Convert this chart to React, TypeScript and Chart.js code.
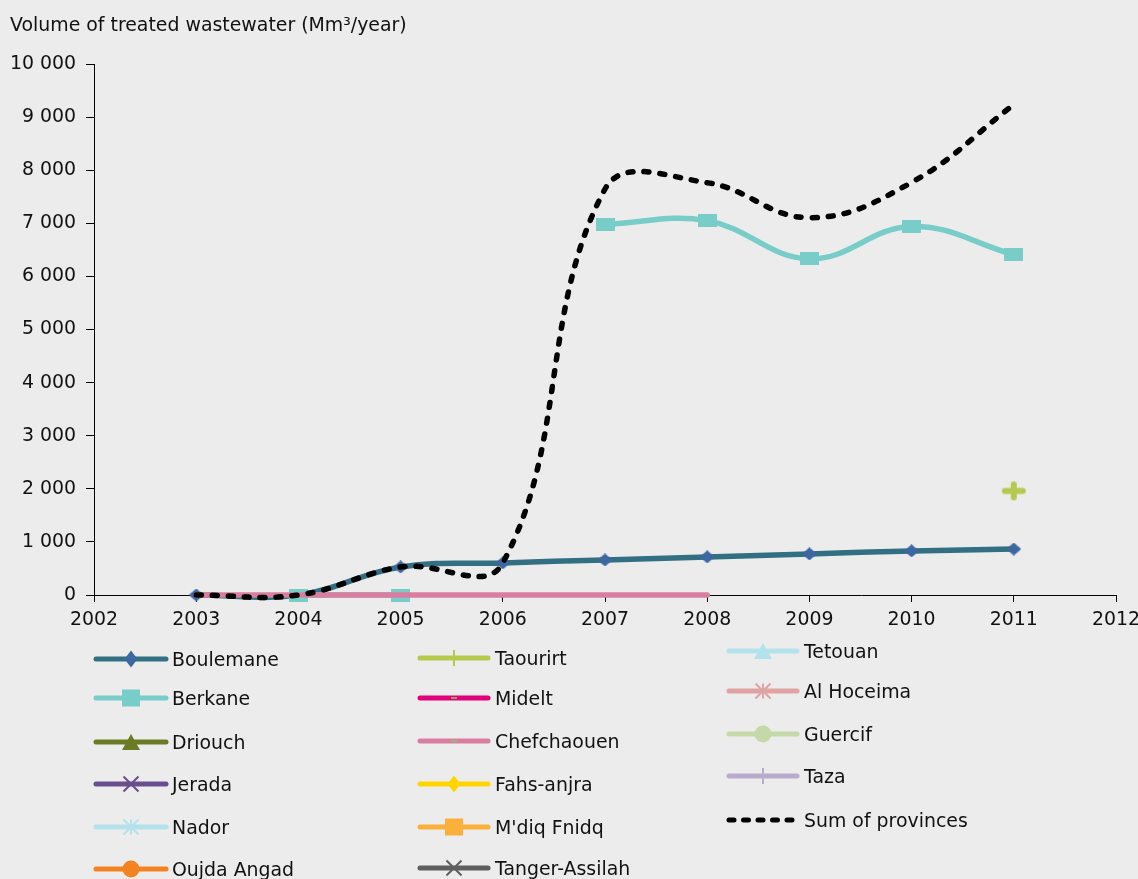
import { useEffect, useRef } from 'react';
import { Chart, registerables } from 'chart.js';

Chart.register(...registerables);

const FONT = '"DejaVu Sans", Verdana, sans-serif';
const FONT_SIZE = 18.9;
const BG = '#ececec';
const TEXT = '#111111';

// ---------- data ----------
const yAxisTitle = 'Volume of treated wastewater (Mm\u00b3/year)';
const years = [2003, 2004, 2005, 2006, 2007, 2008, 2009, 2010, 2011];
const xTickMin = 2002;
const xTickMax = 2012;
const yTickMax = 10000;
const yTickStep = 1000;

const seriesNames = [
  'Boulemane', 'Berkane', 'Driouch', 'Jerada', 'Nador', 'Oujda Angad',
  'Taourirt', 'Midelt', 'Chefchaouen', 'Fahs-anjra', "M'diq Fnidq", 'Tanger-Assilah',
  'Tetouan', 'Al Hoceima', 'Guercif', 'Taza', 'Sum of provinces',
];

const boulemane = [0, 0, 528, 604, 660, 717, 774, 830, 866];
const berkane = [null, 0, 0, null, 6980, 7050, 6330, 6940, 6410];
const driouch: (number | null)[] = [];
const jerada: (number | null)[] = [];
const nador: (number | null)[] = [];
const oujdaAngad: (number | null)[] = [];
const taourirt = [null, null, null, null, null, null, null, null, 1960];
const midelt: (number | null)[] = [];
const chefchaouen = [0, 0, 0, 0, 0, 0, null, null, null];
const fahsAnjra: (number | null)[] = [];
const mdiqFnidq: (number | null)[] = [];
const tangerAssilah: (number | null)[] = [];
const tetouan: (number | null)[] = [];
const alHoceima: (number | null)[] = [];
const guercif: (number | null)[] = [];
const taza: (number | null)[] = [];
const sumOfProvinces = [0, 0, 528, 604, 7645, 7765, 7105, 7770, 9236];

const seriesValues: (number | null)[][] = [
  boulemane, berkane, driouch, jerada, nador, oujdaAngad,
  taourirt, midelt, chefchaouen, fahsAnjra, mdiqFnidq, tangerAssilah,
  tetouan, alHoceima, guercif, taza, sumOfProvinces,
];

// ---------- styles ----------
type Marker = 'diamond' | 'square' | 'triangle' | 'x' | 'star' | 'circle' | 'plus' | 'dash' | 'none';
interface SeriesStyle { line: string; marker: Marker; mColor: string; dashed?: boolean }
const seriesStyles: SeriesStyle[] = [
  { line: '#336f82', marker: 'diamond', mColor: '#3d67a0' },
  { line: '#78cdc8', marker: 'square', mColor: '#78cdc8' },
  { line: '#6b7a24', marker: 'triangle', mColor: '#6b7a24' },
  { line: '#6a4f8f', marker: 'x', mColor: '#6a4f8f' },
  { line: '#b3e2ea', marker: 'star', mColor: '#b3e2ea' },
  { line: '#f58220', marker: 'circle', mColor: '#f58220' },
  { line: '#b5c94c', marker: 'plus', mColor: '#b5c94c' },
  { line: '#e2007a', marker: 'dash', mColor: '#8fa35a' },
  { line: '#d97ea0', marker: 'dash', mColor: '#9db37a' },
  { line: '#ffd500', marker: 'diamond', mColor: '#ffd500' },
  { line: '#fbb03b', marker: 'square', mColor: '#fbb03b' },
  { line: '#5e5e5e', marker: 'x', mColor: '#5e5e5e' },
  { line: '#b3e2ea', marker: 'triangle', mColor: '#b3e2ea' },
  { line: '#e0a3a3', marker: 'star', mColor: '#e0a3a3' },
  { line: '#c5d9a8', marker: 'circle', mColor: '#c5d9a8' },
  { line: '#b9abcb', marker: 'plus', mColor: '#b9abcb' },
  { line: '#000000', marker: 'none', mColor: '#000000', dashed: true },
];

function drawMarker(ctx: CanvasRenderingContext2D, m: Marker, cx: number, cy: number, w: number, h: number, color: string, stroke: number) {
  ctx.save();
  ctx.fillStyle = color;
  ctx.strokeStyle = color;
  ctx.lineWidth = stroke;
  ctx.lineCap = 'butt';
  const hw = w / 2, hh = h / 2;
  ctx.beginPath();
  switch (m) {
    case 'diamond':
      ctx.moveTo(cx, cy - hh); ctx.lineTo(cx + hw, cy); ctx.lineTo(cx, cy + hh); ctx.lineTo(cx - hw, cy); ctx.closePath(); ctx.fill();
      break;
    case 'square':
      ctx.rect(cx - hw, cy - hh, w, h); ctx.fill();
      break;
    case 'triangle':
      ctx.moveTo(cx, cy - hh); ctx.lineTo(cx + hw, cy + hh); ctx.lineTo(cx - hw, cy + hh); ctx.closePath(); ctx.fill();
      break;
    case 'circle':
      ctx.ellipse(cx, cy, hw, hh, 0, 0, Math.PI * 2); ctx.fill();
      break;
    case 'x':
      ctx.moveTo(cx - hw, cy - hh); ctx.lineTo(cx + hw, cy + hh); ctx.moveTo(cx + hw, cy - hh); ctx.lineTo(cx - hw, cy + hh); ctx.stroke();
      break;
    case 'star':
      ctx.moveTo(cx - hw, cy - hh); ctx.lineTo(cx + hw, cy + hh); ctx.moveTo(cx + hw, cy - hh); ctx.lineTo(cx - hw, cy + hh);
      ctx.moveTo(cx, cy - hh); ctx.lineTo(cx, cy + hh); ctx.stroke();
      break;
    case 'plus':
      ctx.lineCap = stroke > 3 ? 'round' : 'butt';
      ctx.moveTo(cx - hw, cy); ctx.lineTo(cx + hw, cy); ctx.moveTo(cx, cy - hh); ctx.lineTo(cx, cy + hh); ctx.stroke();
      break;
    case 'dash':
      ctx.moveTo(cx - 3, cy); ctx.lineTo(cx + 3, cy); ctx.stroke();
      break;
    default:
      break;
  }
  ctx.restore();
}

const chartMarkerSize: Record<string, [number, number, number]> = {
  diamond: [15, 13, 0],
  square: [19, 13, 0],
  triangle: [16, 13, 0],
  circle: [14, 13, 0],
  x: [14, 13, 2],
  star: [14, 13, 2],
  plus: [18, 13, 6],
};

function makePointCanvas(m: Marker, color: string): HTMLCanvasElement | null {
  const size = chartMarkerSize[m];
  if (!size) return null;
  const [w, h, s] = size;
  const pad = s;
  const c = document.createElement('canvas');
  c.width = w + pad * 2;
  c.height = h + pad * 2;
  const ctx = c.getContext('2d')!;
  drawMarker(ctx, m, c.width / 2, c.height / 2, w, h, color, s);
  return c;
}

const legendColumns = [
  { x0: 96, x1: 166, textX: 172, rows: [659, 698, 742, 784, 827, 869] },
  { x0: 420, x1: 488, textX: 495, rows: [658, 698, 741, 784, 827, 868] },
  { x0: 729, x1: 797, textX: 804, rows: [651, 691, 734, 776, 820] },
];
const legendColumnOf = (i: number) => (i < 6 ? [0, i] : i < 12 ? [1, i - 6] : [2, i - 12]);

const legendMarkerSize: Record<string, [number, number, number]> = {
  diamond: [13, 17, 0],
  square: [18, 17, 0],
  triangle: [18, 16, 0],
  circle: [17, 17, 0],
  x: [15, 15, 2],
  star: [15, 15, 2],
  plus: [0.1, 16, 2],
  dash: [6, 2, 2],
};

const customDraw = {
  id: 'customDraw',
  afterDraw(chart: Chart) {
    const ctx = chart.ctx;
    ctx.save();
    ctx.font = `${FONT_SIZE}px ${FONT}`;
    ctx.fillStyle = TEXT;
    ctx.textBaseline = 'alphabetic';
    ctx.textAlign = 'left';
    ctx.fillText(yAxisTitle, 10, 31);

    seriesNames.forEach((name, i) => {
      const [col, row] = legendColumnOf(i);
      const L = legendColumns[col];
      const y = L.rows[row];
      const st = seriesStyles[i];
      ctx.save();
      ctx.strokeStyle = st.line;
      ctx.lineWidth = 5;
      ctx.lineCap = 'round';
      if (st.dashed) ctx.setLineDash([5, 9.5]);
      ctx.beginPath();
      ctx.moveTo(L.x0, y);
      ctx.lineTo(L.x1, y);
      ctx.stroke();
      ctx.restore();
      const ms = legendMarkerSize[st.marker];
      if (ms) drawMarker(ctx, st.marker, (L.x0 + L.x1) / 2, y, ms[0], ms[1], st.mColor, ms[2]);
      ctx.fillStyle = TEXT;
      ctx.fillText(name, L.textX, y + 7);
    });
    ctx.restore();
  },
};

const formatThousands = (v: number) => String(v).replace(/\B(?=(\d{3})+(?!\d))/g, ' ');

export default function App() {
  const ref = useRef<HTMLCanvasElement | null>(null);

  useEffect(() => {
    document.body.style.margin = '0';
    document.body.style.background = BG;
    document.body.style.overflow = 'hidden';
    const canvas = ref.current!;
    const n = seriesNames.length;
    const datasets = seriesNames.map((name, i) => {
      const st = seriesStyles[i];
      const pc = makePointCanvas(st.marker, st.mColor);
      return {
        label: name,
        data: seriesValues[i].map((v, k) => ({ x: years[k], y: v })),
        borderColor: st.line,
        backgroundColor: st.mColor,
        borderWidth: 5.5,
        borderDash: st.dashed ? [5, 11] : [],
        borderCapStyle: 'round' as const,
        borderJoinStyle: 'round' as const,
        pointStyle: (pc || 'circle') as any,
        pointRadius: pc ? 7 : 0,
        pointHoverRadius: pc ? 7 : 0,
        tension: 0.4,
        spanGaps: false,
        clip: false as any,
        // Excel draws later series on top; in Chart.js lower order is drawn on top
        order: n - i,
      };
    });

    const tickFont = { family: FONT, size: FONT_SIZE };
    const chart = new Chart(canvas, {
      type: 'line',
      data: { datasets: datasets as any },
      plugins: [customDraw],
      options: {
        responsive: false,
        animation: false,
        devicePixelRatio: 1,
        layout: { padding: { top: 64, right: 0, left: 0, bottom: 0 } },
        plugins: {
          legend: { display: false },
          tooltip: { enabled: false },
          title: { display: false },
        },
        elements: { line: { capBezierPoints: false } },
        scales: {
          x: {
            type: 'linear',
            min: xTickMin,
            max: xTickMax,
            afterFit: (s: any) => { s.height = 284; s.paddingRight = 22; s.paddingLeft = 0; },
            ticks: {
              stepSize: 1,
              autoSkip: false,
              maxRotation: 0,
              padding: 7,
              color: TEXT,
              font: tickFont,
              callback: (v: any) => String(v),
            },
            grid: { display: true, drawOnChartArea: false, drawTicks: true, tickLength: 7, color: '#000', lineWidth: 1 },
            border: { display: true, color: '#000', width: 1 },
          },
          y: {
            min: 0,
            max: yTickMax,
            afterFit: (s: any) => { s.width = 94; },
            ticks: {
              stepSize: yTickStep,
              padding: 10,
              color: TEXT,
              font: tickFont,
              callback: (v: any) => formatThousands(Number(v)),
            },
            grid: { display: true, drawOnChartArea: false, drawTicks: true, tickLength: 8, color: '#000', lineWidth: 1 },
            border: { display: true, color: '#000', width: 1 },
          },
        },
      },
    });
    return () => chart.destroy();
  }, []);

  return (
    <div style={{ width: 1138, height: 879, background: BG, overflow: 'hidden' }}>
      <canvas ref={ref} width={1138} height={879} style={{ display: 'block', width: 1138, height: 879 }} />
    </div>
  );
}
